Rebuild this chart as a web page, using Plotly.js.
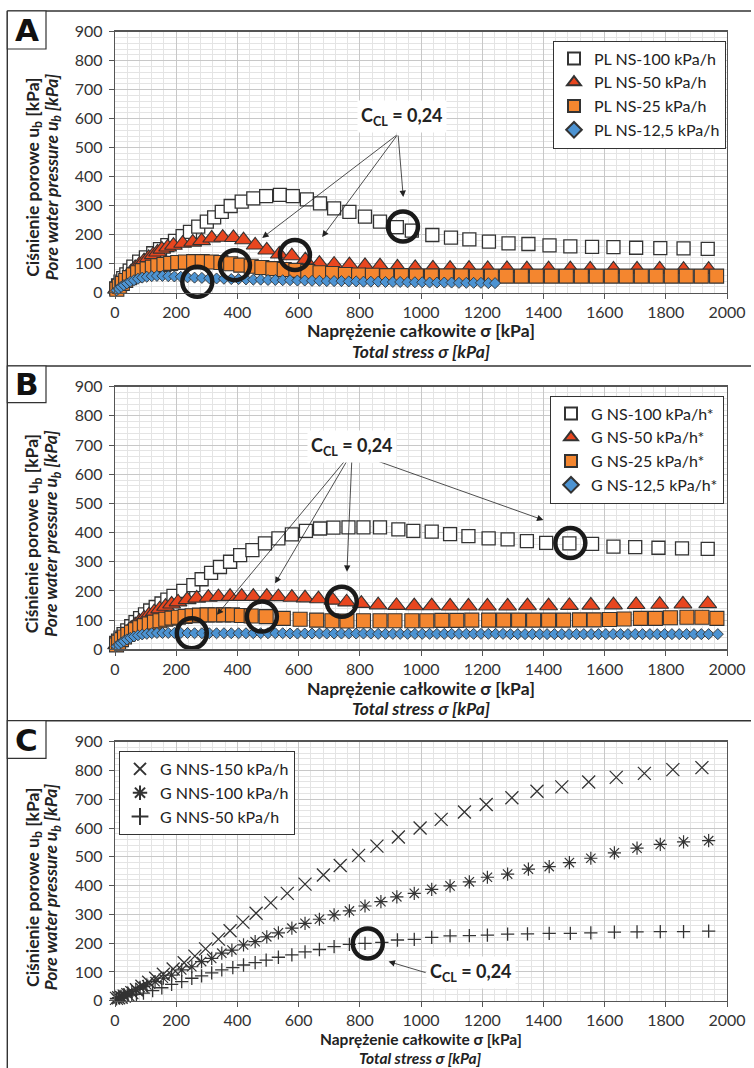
<!DOCTYPE html>
<html>
<head>
<meta charset="utf-8">
<script src="https://cdn.plot.ly/plotly-3.0.1.min.js"></script>
<style>html,body{margin:0;padding:0;background:#fff;}#chart{width:754px;height:1068px;}</style>
</head>
<body>
<div id="chart"></div>
<script>
// ---------------- Panel A (PL NS) ----------------
const A_ns100_x = [4,10,18,27,37,48,60,79,101,125,147,171,196,221,245,272,300,324,349,378,414,452,494,539,581,627,670,716,766,817,866,921,970,1037,1098,1158,1222,1286,1351,1420,1488,1559,1629,1703,1782,1858,1937];
const A_ns100_y = [15,25,38,50,63,76,90,107,122,136,150,164,179,195,210,228,245,260,279,299,314,325,333,337,333,322,308,291,279,262,245,226,214,199,190,184,176,170,168,163,160,158,157,155,154,153,151];
const A_ns50_x = [5,12,20,30,41,53,66,80,95,110,125,139,153,172,191,221,254,283,316,352,387,420,458,496,537,578,622,668,716,766,817,866,923,981,1039,1095,1157,1218,1281,1346,1417,1488,1553,1629,1706,1780,1858,1940];
const A_ns50_y = [12,22,34,47,60,73,86,98,110,121,131,140,150,157,163,170,174,179,188,191,190,182,164,147,133,127,113,101,98,96,93,92,88,86,85,84,84,83,83,82,82,82,81,81,81,81,80,80];
const A_ns25_x = [6,14,24,35,47,60,74,89,105,122,140,160,182,205,230,257,285,315,346,378,411,445,480,516,553,591,630,670,711,753,796,841,888,936,985,1034,1083,1132,1181,1230,1279,1328,1377,1426,1475,1524,1573,1622,1671,1720,1769,1818,1867,1916,1966];
const A_ns25_y = [12,22,32,42,52,61,69,76,82,88,93,97,101,104,106,107,107,106,104,100,95,91,87,83,80,77,73,69,66,63,61,60,59,59,58,58,58,58,57,57,57,57,57,57,57,57,57,57,57,57,57,57,57,57,57];
const A_ns12_x = [5,12,20,29,39,50,62,75,89,104,120,137,155,174,194,215,237,260,284,308,332,356,380,404,428,452,476,500,524,548,572,596,620,644,668,692,716,740,764,788,812,836,860,884,908,932,956,980,1004,1028,1052,1076,1100,1124,1148,1172,1196,1220,1242];
const A_ns12_y = [8,14,20,26,32,38,43,48,52,55,57,58,58,57,56,55,53,52,51,50,49,48,47,47,46,45,45,44,44,43,43,42,42,41,41,40,40,40,39,39,38,38,38,37,37,37,36,36,36,35,35,35,35,34,34,34,34,33,33];
const A_ring_x = [269,392,588,941];
const A_ring_y = [38,95,130,228];
const A_names = ["PL NS-100 kPa/h","PL NS-50 kPa/h","PL NS-25 kPa/h","PL NS-12,5 kPa/h"];

// ---------------- Panel B (G NS) ----------------
const B_ns100_x = [4,10,18,28,40,53,67,82,98,115,133,152,171,191,223,256,283,314,343,376,409,449,490,534,578,624,670,714,763,812,866,926,975,1035,1095,1155,1221,1283,1346,1409,1485,1559,1629,1700,1776,1853,1937];
const B_ns100_y = [22,30,40,52,65,79,93,107,120,133,145,157,170,183,200,220,240,262,282,300,323,340,363,380,394,406,414,417,418,418,418,411,406,403,395,388,380,377,371,365,363,361,352,350,348,346,344];
const B_ns50_x = [5,12,20,30,41,53,66,80,95,111,128,146,165,185,206,236,267,305,338,376,414,452,496,534,578,621,665,712,757,805,860,920,978,1035,1095,1155,1217,1283,1348,1417,1485,1555,1629,1703,1780,1856,1937];
const B_ns50_y = [15,25,36,48,60,72,84,96,107,118,128,138,147,155,162,170,175,178,180,181,181,181,181,180,178,176,173,168,162,157,152,150,149,149,148,148,148,148,149,149,150,151,152,153,154,155,156];
const B_ns25_x = [5,12,21,31,42,54,67,81,96,112,129,147,166,186,207,229,252,276,301,327,355,384,413,445,494,550,605,659,709,758,812,866,915,970,1019,1068,1117,1166,1221,1270,1319,1368,1417,1466,1518,1566,1616,1664,1717,1766,1815,1869,1918,1967];
const B_ns25_y = [15,24,33,42,51,59,67,74,81,87,93,98,103,107,110,113,115,117,118,118,118,118,116,114,112,106,103,100,98,97,98,98,98,98,98,99,99,100,100,100,100,100,100,100,101,101,102,104,106,106,108,110,110,106];
const B_ns12_x = [5,12,20,29,39,50,62,75,89,104,120,137,155,174,194,215,237,260,284,308,332,356,380,404,428,452,476,500,524,548,572,596,620,644,668,692,716,740,764,788,812,836,860,884,908,932,956,980,1004,1028,1052,1076,1100,1124,1148,1172,1196,1220,1244,1268,1292,1316,1340,1364,1388,1412,1436,1460,1484,1508,1532,1556,1580,1604,1628,1652,1676,1700,1724,1748,1772,1796,1820,1844,1868,1892,1916,1940,1970];
const B_ns12_y = [10,16,22,28,34,39,44,48,51,53,55,56,56,56,56,56,56,55,55,55,55,55,55,55,55,55,55,55,55,55,54,54,54,54,54,54,54,54,54,54,54,54,53,53,53,53,53,53,53,53,53,53,53,53,53,53,53,53,53,53,52,52,52,52,52,52,52,52,52,52,52,52,52,52,52,52,52,52,52,52,52,52,52,52,52,52,52,52,52];
const B_ring_x = [251,480,741,1488];
const B_ring_y = [55,112,163,364];
const B_names = ["G NS-100 kPa/h*","G NS-50 kPa/h*","G NS-25 kPa/h*","G NS-12,5 kPa/h*"];

// ---------------- Panel C (G NNS) ----------------
const C_nns150_x = [5,12,20,30,42,55,70,88,110,133,158,190,226,261,296,338,376,418,461,509,563,621,681,736,796,856,926,997,1066,1142,1213,1297,1379,1460,1548,1638,1730,1823,1918];
const C_nns150_y = [8,10,12,16,21,28,38,50,64,78,92,110,132,155,180,214,243,273,304,340,373,405,437,470,505,537,569,600,630,656,682,705,728,743,760,776,790,803,810];
const C_nns100_x = [5,12,20,30,42,55,68,82,93,104,131,158,185,218,251,283,316,349,382,420,458,496,534,578,621,668,716,766,817,869,921,978,1035,1095,1158,1217,1283,1351,1419,1485,1555,1632,1706,1782,1858,1940];
const C_nns100_y = [8,11,15,20,26,32,39,46,50,55,66,78,89,107,118,136,147,165,176,194,205,222,236,252,269,283,298,312,329,344,361,373,387,399,413,429,440,457,466,480,495,514,530,543,552,556];
const C_nns50_x = [5,15,27,40,55,70,93,123,153,185,218,251,283,316,349,385,420,458,494,534,578,621,668,716,766,817,872,923,978,1035,1095,1158,1217,1283,1348,1419,1488,1555,1632,1706,1782,1858,1940];
const C_nns50_y = [6,9,13,17,20,22,26,35,45,57,66,78,86,97,107,115,124,132,141,151,159,170,178,188,196,199,203,211,213,220,225,226,228,231,232,234,234,236,238,239,240,240,242];
const C_ring_x = [826];
const C_ring_y = [199];
const C_names = ["G NNS-150 kPa/h","G NNS-100 kPa/h","G NNS-50 kPa/h"];

// axis tick values
const xTicks = [0,200,400,600,800,1000,1200,1400,1600,1800,2000];
const yTicks = [0,100,200,300,400,500,600,700,800,900];

// annotation texts
const labelCCL = "<b>C<sub>CL</sub> = 0,24</b>";
const yTitle1 = "<b>Ciśnienie porowe u<sub>b</sub> [kPa]</b>";
const yTitle2 = "<b><i>Pore water pressure u<sub>b</sub> [kPa]</i></b>";
const xTitle1 = "<b>Naprężenie całkowite σ [kPa]</b>";
const xTitle2 = "<b><i>Total stress σ [kPa]</i></b>";
const panelLetters = ["A","B","C"];

// arrows: label anchor (data) and arrow tails/heads
const A_label = [937,607], A_tail = [925,547], A_heads_x = [481,677,942], A_heads_y = [189,192,330];
const B_label = [774,695], B_tail = [775,676], B_heads_x = [758,523,333,1400], B_heads_y = [266,226,118,443];
const C_label = [1164,98], C_tail = [1020,96], C_heads_x = [894], C_heads_y = [136];

// ---------------- layout helpers ----------------
const W = 754, H = 1068;
const px = v => v / W;
const py = v => 1 - v / H;
const FONT = 'Lato, "Open Sans", sans-serif';
const EDGE = '#333333';
const RED = '#E8461F', ORANGE = '#F4862F', BLUE = '#4C93D2';

function mk(x, y, name, ax, legend, marker) {
  return {type:'scatter', mode:'markers', x:x, y:y, name:name, xaxis:'x'+ax, yaxis:'y'+ax,
          legend:legend, marker:marker, cliponaxis:false, hoverinfo:'skip'};
}
function ring(x, y, ax) {
  return {type:'scatter', mode:'markers', x:x, y:y, xaxis:'x'+ax, yaxis:'y'+ax, showlegend:false,
          cliponaxis:false, hoverinfo:'skip',
          marker:{symbol:'circle-open', size:30, color:'#1a1a1a', line:{width:4.5, color:'#1a1a1a'}}};
}
const sq = {symbol:'square', size:13, color:'#ffffff', line:{color:EDGE, width:1.3}};
const tri = {symbol:'triangle-up', size:15.5, color:RED, line:{color:EDGE, width:1.1}};
const osq = {symbol:'square', size:14, color:ORANGE, line:{color:EDGE, width:1.1}};
const dia = {symbol:'diamond', size:8.5, color:BLUE, line:{color:EDGE, width:0.9}};

const traces = [
  mk(A_ns100_x, A_ns100_y, A_names[0], '', 'legend', sq),
  mk(A_ns50_x, A_ns50_y, A_names[1], '', 'legend', tri),
  mk(A_ns25_x, A_ns25_y, A_names[2], '', 'legend', osq),
  mk(A_ns12_x, A_ns12_y, A_names[3], '', 'legend', dia),
  ring(A_ring_x, A_ring_y, ''),
  mk(B_ns100_x, B_ns100_y, B_names[0], '2', 'legend2', sq),
  mk(B_ns50_x, B_ns50_y, B_names[1], '2', 'legend2', tri),
  mk(B_ns25_x, B_ns25_y, B_names[2], '2', 'legend2', osq),
  mk(B_ns12_x, B_ns12_y, B_names[3], '2', 'legend2', dia),
  ring(B_ring_x, B_ring_y, '2'),
  mk(C_nns150_x, C_nns150_y, C_names[0], '3', 'legend3', {symbol:'x-thin-open', size:13, color:EDGE, line:{color:EDGE, width:1.3}}),
  mk(C_nns100_x, C_nns100_y, C_names[1], '3', 'legend3', {symbol:'asterisk-open', size:11, color:EDGE, line:{color:EDGE, width:1.2}}),
  mk(C_nns50_x, C_nns50_y, C_names[2], '3', 'legend3', {symbol:'cross-thin-open', size:9.5, color:EDGE, line:{color:EDGE, width:1.3}}),
  ring(C_ring_x, C_ring_y, '3')
];

function xax(anchor) {
  return {domain:[px(115), px(727)], anchor:anchor, range:[0,2000], tickvals:xTicks, ticktext:xTicks.map(String),
    showgrid:true, gridcolor:'#c8c8c8', gridwidth:1, zeroline:false,
    minor:{dtick:40, tick0:0, showgrid:true, gridcolor:'#e4e4e4', gridwidth:1},
    ticks:'outside', ticklen:5, tickcolor:'#555', tickwidth:1,
    showline:true, mirror:true, linecolor:'#555', linewidth:1.3,
    tickfont:{family:FONT, size:16, color:'#333'}, fixedrange:true};
}
function yax(anchor, top, bottom) {
  return {domain:[py(bottom), py(top)], anchor:anchor, range:[0,900], tickvals:yTicks, ticktext:yTicks.map(String),
    showgrid:true, gridcolor:'#c8c8c8', gridwidth:1, zeroline:false,
    minor:{dtick:20, tick0:0, showgrid:true, gridcolor:'#e4e4e4', gridwidth:1},
    ticks:'outside', ticklen:5, tickcolor:'#555', tickwidth:1, ticklabelstandoff:3,
    showline:true, mirror:true, linecolor:'#555', linewidth:1.3,
    tickfont:{family:FONT, size:16, color:'#333'}, fixedrange:true};
}
function leg(x, y) {
  return {x:px(x), y:py(y), xanchor:'left', yanchor:'top', bgcolor:'#ffffff', bordercolor:'#333', borderwidth:1,
          font:{family:FONT, size:16, color:'#222'}, itemsizing:'constant', itemwidth:30, tracegroupgap:0};
}

const annotations = [];
const shapes = [];
// panel frame lines
const lineStyle = {color:'#333', width:1.4};
[11, 366, 720.7].forEach(yy => shapes.push({type:'line', xref:'paper', yref:'paper', x0:px(7.3), x1:px(751), y0:py(yy), y1:py(yy), line:lineStyle}));
shapes.push({type:'line', xref:'paper', yref:'paper', x0:px(7.3), x1:px(7.3), y0:py(11), y1:py(1068), line:lineStyle});
// panel letter boxes
const letterBoxes = [[11,49], [366,402.7], [720.7,758.3]];
letterBoxes.forEach((b, i) => {
  shapes.push({type:'rect', xref:'paper', yref:'paper', x0:px(7.3), x1:px(46), y0:py(b[1]), y1:py(b[0]), line:{color:'#333', width:1.2}, fillcolor:'#fff'});
  annotations.push({xref:'paper', yref:'paper', x:px(26.6), y:py((b[0]+b[1])/2), text:'<b>'+panelLetters[i]+'</b>', showarrow:false,
    xanchor:'center', yanchor:'middle', font:{family:'"DejaVu Sans", sans-serif', size:31, color:'#111'}});
});
// axis titles
const panels = [
  {ytc:177.5, xt1:330, xt2:351.7, tf:17.5},
  {ytc:534, xt1:688.3, xt2:708.3, tf:17.5},
  {ytc:887.6, xt1:1038.5, xt2:1057.5, tf:15.5}
];
const TF = 17.5;
panels.forEach(p => {
  annotations.push({xref:'paper', yref:'paper', x:px(33.3), y:py(p.ytc), text:yTitle1, textangle:-90, showarrow:false,
    xanchor:'center', yanchor:'middle', font:{family:FONT, size:TF, color:'#222'}});
  annotations.push({xref:'paper', yref:'paper', x:px(52), y:py(p.ytc), text:yTitle2, textangle:-90, showarrow:false,
    xanchor:'center', yanchor:'middle', font:{family:FONT, size:TF, color:'#222'}});
  annotations.push({xref:'paper', yref:'paper', x:px(421), y:py(p.xt1), text:xTitle1, showarrow:false,
    xanchor:'center', yanchor:'middle', font:{family:FONT, size:p.tf, color:'#222'}});
  annotations.push({xref:'paper', yref:'paper', x:px(421), y:py(p.xt2), text:xTitle2, showarrow:false,
    xanchor:'center', yanchor:'middle', font:{family:FONT, size:p.tf, color:'#222'}});
});
// arrows + labels
function arrows(ax, tail, hx, hy) {
  hx.forEach((x, i) => annotations.push({xref:'x'+ax, yref:'y'+ax, axref:'x'+ax, ayref:'y'+ax, x:x, y:hy[i], ax:tail[0], ay:tail[1],
    text:'', showarrow:true, arrowhead:2, arrowsize:1.6, arrowwidth:0.8, arrowcolor:'#222', standoff:0, startstandoff:0}));
}
arrows('', A_tail, A_heads_x, A_heads_y);
arrows('2', B_tail, B_heads_x, B_heads_y);
arrows('3', C_tail, C_heads_x, C_heads_y);
[[A_label,''],[B_label,'2'],[C_label,'3']].forEach(l => annotations.push({xref:'x'+l[1], yref:'y'+l[1], x:l[0][0], y:l[0][1],
  text:labelCCL, showarrow:false, bgcolor:'#ffffff', borderpad:3, xanchor:'center', yanchor:'middle',
  font:{family:FONT, size:18, color:'#222'}}));

const layout = {
  width:W, height:H, margin:{l:0, r:0, t:0, b:0}, paper_bgcolor:'#fff', plot_bgcolor:'#fff',
  font:{family:FONT, color:'#222'},
  xaxis:xax('y'), yaxis:yax('x', 31.7, 292.7),
  xaxis2:xax('y2'), yaxis2:yax('x2', 386.7, 649.3),
  xaxis3:xax('y3'), yaxis3:yax('x3', 741.7, 1000.7),
  legend:leg(553, 40.5), legend2:leg(550, 395.5), legend3:leg(119, 751),
  showlegend:true, shapes:shapes, annotations:annotations
};
Plotly.newPlot('chart', traces, layout, {staticPlot:true, displayModeBar:false});
</script>
</body>
</html>
